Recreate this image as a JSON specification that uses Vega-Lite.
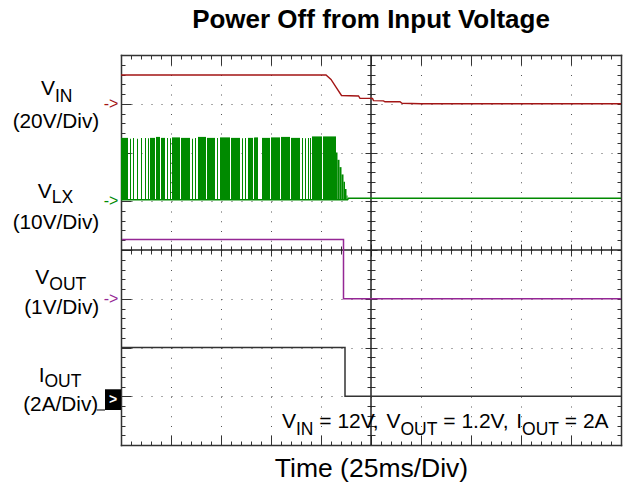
{
  "$schema": "https://vega.github.io/schema/vega-lite/v6.json",
  "width": 500,
  "height": 390,
  "autosize": {"type": "none"},
  "padding": {"left": 121, "top": 55, "right": 9, "bottom": 45},
  "background": "white",
  "config": {
    "view": {"stroke": null},
    "font": "Liberation Sans",
    "axis": {"labels": false, "domainColor": "#333333", "domainWidth": 1.5, "tickColor": "#333333", "tickWidth": 1, "grid": false, "domainCap": "square"}
  },
  "title": {"text": "Power Off from Input Voltage", "font": "Liberation Sans", "fontSize": 26, "fontWeight": "bold", "color": "#000000", "anchor": "middle", "baseline": "alphabetic", "offset": 0},
  "resolve": {"axis": {"x": "independent", "y": "independent"}},
  "datasets": {
    "traces": [
      {"ch": "VIN", "i": 0, "t": 0, "v": 7.59},
      {"ch": "VIN", "i": 1, "t": 4.1, "v": 7.59},
      {"ch": "VIN", "i": 2, "t": 4.2, "v": 7.5},
      {"ch": "VIN", "i": 3, "t": 4.3, "v": 7.34},
      {"ch": "VIN", "i": 4, "t": 4.41, "v": 7.17},
      {"ch": "VIN", "i": 5, "t": 4.75, "v": 7.16},
      {"ch": "VIN", "i": 6, "t": 4.78, "v": 7.11},
      {"ch": "VIN", "i": 7, "t": 5.03, "v": 7.11},
      {"ch": "VIN", "i": 8, "t": 5.05, "v": 7.065},
      {"ch": "VIN", "i": 9, "t": 5.25, "v": 7.06},
      {"ch": "VIN", "i": 10, "t": 5.28, "v": 7.04},
      {"ch": "VIN", "i": 11, "t": 5.58, "v": 7.04},
      {"ch": "VIN", "i": 12, "t": 5.62, "v": 7.01},
      {"ch": "VIN", "i": 13, "t": 6.0, "v": 7.0},
      {"ch": "VIN", "i": 14, "t": 10, "v": 7.0},
      {"ch": "VLX", "i": 0, "t": 0, "v": 5.03},
      {"ch": "VLX", "i": 1, "t": 4.53, "v": 5.03},
      {"ch": "VLX", "i": 2, "t": 4.55, "v": 5.06},
      {"ch": "VLX", "i": 3, "t": 10, "v": 5.06},
      {"ch": "VOUT", "i": 0, "t": 0.02, "v": 4.215},
      {"ch": "VOUT", "i": 1, "t": 4.45, "v": 4.215},
      {"ch": "VOUT", "i": 2, "t": 4.45, "v": 3.0},
      {"ch": "VOUT", "i": 3, "t": 10, "v": 3.0},
      {"ch": "IOUT", "i": 0, "t": 0, "v": 2.0},
      {"ch": "IOUT", "i": 1, "t": 4.48, "v": 2.0},
      {"ch": "IOUT", "i": 2, "t": 4.48, "v": 1.0},
      {"ch": "IOUT", "i": 3, "t": 10, "v": 1.0}
    ],
    "pulses": [
      {"t1": 0, "t2": 0.14, "hi": 6.3},
      {"t1": 0.18, "t2": 0.2, "hi": 6.28},
      {"t1": 0.24, "t2": 0.26, "hi": 6.3},
      {"t1": 0.32, "t2": 0.34, "hi": 6.28},
      {"t1": 0.4, "t2": 0.42, "hi": 6.3},
      {"t1": 0.48, "t2": 0.5, "hi": 6.3},
      {"t1": 0.54, "t2": 0.56, "hi": 6.29},
      {"t1": 0.58, "t2": 0.68, "hi": 6.3},
      {"t1": 0.7, "t2": 0.78, "hi": 6.32},
      {"t1": 0.8, "t2": 0.88, "hi": 6.3},
      {"t1": 0.92, "t2": 0.94, "hi": 6.3},
      {"t1": 0.98, "t2": 1.0, "hi": 6.29},
      {"t1": 1.02, "t2": 1.18, "hi": 6.31},
      {"t1": 1.2, "t2": 1.38, "hi": 6.3},
      {"t1": 1.42, "t2": 1.44, "hi": 6.28},
      {"t1": 1.48, "t2": 1.5, "hi": 6.3},
      {"t1": 1.54, "t2": 1.7, "hi": 6.32},
      {"t1": 1.72, "t2": 1.88, "hi": 6.3},
      {"t1": 1.92, "t2": 1.94, "hi": 6.3},
      {"t1": 1.98, "t2": 2.18, "hi": 6.31},
      {"t1": 2.2, "t2": 2.38, "hi": 6.3},
      {"t1": 2.42, "t2": 2.44, "hi": 6.29},
      {"t1": 2.48, "t2": 2.5, "hi": 6.3},
      {"t1": 2.54, "t2": 2.64, "hi": 6.3},
      {"t1": 2.66, "t2": 2.74, "hi": 6.31},
      {"t1": 2.82, "t2": 2.98, "hi": 6.3},
      {"t1": 3.0, "t2": 3.18, "hi": 6.31},
      {"t1": 3.2, "t2": 3.38, "hi": 6.32},
      {"t1": 3.4, "t2": 3.58, "hi": 6.3},
      {"t1": 3.62, "t2": 3.64, "hi": 6.3},
      {"t1": 3.68, "t2": 3.7, "hi": 6.29},
      {"t1": 3.74, "t2": 3.76, "hi": 6.3},
      {"t1": 3.78, "t2": 3.8, "hi": 6.3},
      {"t1": 3.82, "t2": 4.02, "hi": 6.33},
      {"t1": 4.04, "t2": 4.3, "hi": 6.33},
      {"t1": 4.3, "t2": 4.33, "hi": 6.0},
      {"t1": 4.33, "t2": 4.37, "hi": 5.85},
      {"t1": 4.37, "t2": 4.41, "hi": 5.7},
      {"t1": 4.41, "t2": 4.45, "hi": 5.55},
      {"t1": 4.45, "t2": 4.48, "hi": 5.4},
      {"t1": 4.48, "t2": 4.51, "hi": 5.25},
      {"t1": 4.51, "t2": 4.53, "hi": 5.12}
    ],
    "labels": [
      {"ch": "VIN", "main": "V", "sub": "IN", "scale": "(20V/Div)", "ground": 7, "lx": -1.32, "ly": 7.18, "sy": 7.04, "px": -0.434, "py": 6.51},
      {"ch": "VLX", "main": "V", "sub": "LX", "scale": "(10V/Div)", "ground": 5, "lx": -1.386, "ly": 5.06, "sy": 4.96, "px": -0.434, "py": 4.43},
      {"ch": "VOUT", "main": "V", "sub": "OUT", "scale": "(1V/Div)", "ground": 3, "lx": -1.434, "ly": 3.31, "sy": 3.18, "px": -0.434, "py": 2.69},
      {"ch": "IOUT", "main": "I", "sub": "OUT", "scale": "(2A/Div)", "ground": 1, "lx": -1.53, "ly": 1.3, "sy": 1.18, "px": -0.454, "py": 0.7}
    ],
    "marker": [
      {"ch": "IOUT", "x1": -0.32, "x2": 0, "y1": 1.143, "y2": 0.718, "lx1": -0.486, "cx": -0.16, "cy": 0.93}
    ],
    "note": [
      {"txt": "V", "x": 3.22, "y": 0.343, "part": "main"},
      {"txt": "IN", "x": 3.5, "y": 0.205, "part": "sub"},
      {"txt": "= 12V,", "x": 3.966, "y": 0.343, "part": "main"},
      {"txt": "V", "x": 5.31, "y": 0.343, "part": "main"},
      {"txt": "OUT", "x": 5.59, "y": 0.205, "part": "sub"},
      {"txt": "= 1.2V,", "x": 6.446, "y": 0.343, "part": "main"},
      {"txt": "I", "x": 7.904, "y": 0.343, "part": "main"},
      {"txt": "OUT", "x": 8.022, "y": 0.205, "part": "sub"},
      {"txt": "= 2A", "x": 8.876, "y": 0.343, "part": "main"}
    ],
    "center": [{"cx": 5, "cy": 4}]
  },
  "layer": [
    {
      "data": {"name": "center"},
      "mark": {"type": "rule", "color": "#222222", "strokeWidth": 1.5},
      "encoding": {
        "x": {"field": "cx", "type": "quantitative", "scale": {"domain": [0, 10], "nice": false, "zero": false},
          "axis": {"orient": "bottom", "values": [0,1,2,3,4,5,6,7,8,9,10], "tickSize": 12, "offset": -201, "domain": false, "labels": false, "title": null}}
      }
    },
    {
      "data": {"name": "center"},
      "mark": {"type": "rule", "color": "#222222", "strokeWidth": 1.5},
      "encoding": {
        "y": {"field": "cy", "type": "quantitative", "scale": {"domain": [0, 8], "nice": false, "zero": false}, "axis": null}
      }
    },
    {
      "data": {"name": "pulses"},
      "mark": {"type": "rect"},
      "encoding": {
        "x": {"field": "t1", "type": "quantitative", "scale": {"domain": [0, 10], "nice": false, "zero": false},
          "axis": {"orient": "bottom", "values": [0,0.2,0.4,0.6,0.8,1,1.2,1.4,1.6,1.8,2,2.2,2.4,2.6,2.8,3,3.2,3.4,3.6,3.8,4,4.2,4.4,4.6,4.8,5,5.2,5.4,5.6,5.8,6,6.2,6.4,6.6,6.8,7,7.2,7.4,7.6,7.8,8,8.2,8.4,8.6,8.8,9,9.2,9.4,9.6,9.8,10], "tickSize": -4, "domain": true, "labels": false,
            "title": "Time (25ms/Div)", "titleFont": "Liberation Sans", "titleFontSize": 26.5, "titleFontWeight": "normal", "titleColor": "#000000", "titleBaseline": "alphabetic", "titlePadding": 31}},
        "x2": {"field": "t2"},
        "y": {"field": "hi", "type": "quantitative", "scale": {"domain": [0, 8], "nice": false, "zero": false},
          "axis": {"orient": "left", "values": [0,0.2,0.4,0.6,0.8,1,1.2,1.4,1.6,1.8,2,2.2,2.4,2.6,2.8,3,3.2,3.4,3.6,3.8,4,4.2,4.4,4.6,4.8,5,5.2,5.4,5.6,5.8,6,6.2,6.4,6.6,6.8,7,7.2,7.4,7.6,7.8,8], "tickSize": -4, "domain": true, "labels": false, "title": null}},
        "y2": {"datum": 5.03},
        "color": {"datum": "VLX", "type": "nominal", "scale": {"domain": ["VIN", "VLX", "VOUT", "IOUT"], "range": ["#a31515", "#008a00", "#952795", "#333333"]}, "legend": null}
      }
    },
    {
      "data": {"name": "traces"},
      "transform": [{"filter": "datum.ch === 'VLX'"}],
      "mark": {"type": "line", "strokeWidth": 1.5},
      "encoding": {
        "x": {"field": "t", "type": "quantitative", "scale": {"domain": [0, 10], "nice": false, "zero": false},
          "axis": {"orient": "bottom", "values": [0,1,2,3,4,5,6,7,8,9,10], "tickSize": -10, "domain": false, "labels": false, "grid": true, "gridDash": [1, 8.75], "gridColor": "#555555", "gridWidth": 1, "title": null}},
        "y": {"field": "v", "type": "quantitative", "scale": {"domain": [0, 8], "nice": false, "zero": false},
          "axis": {"orient": "left", "values": [0,1,2,3,4,5,6,7,8], "tickSize": -10, "domain": false, "labels": false, "grid": true, "gridDash": [1, 9], "gridColor": "#555555", "gridWidth": 1, "title": null}},
        "order": {"field": "i"},
        "color": {"field": "ch", "type": "nominal", "scale": {"domain": ["VIN", "VLX", "VOUT", "IOUT"], "range": ["#a31515", "#008a00", "#952795", "#333333"]}, "legend": null}
      }
    },
    {
      "data": {"name": "traces"},
      "transform": [{"filter": "datum.ch === 'VIN'"}],
      "mark": {"type": "line", "strokeWidth": 1.4},
      "encoding": {
        "x": {"field": "t", "type": "quantitative", "scale": {"domain": [0, 10], "nice": false, "zero": false},
          "axis": {"orient": "top", "values": [0,0.2,0.4,0.6,0.8,1,1.2,1.4,1.6,1.8,2,2.2,2.4,2.6,2.8,3,3.2,3.4,3.6,3.8,4,4.2,4.4,4.6,4.8,5,5.2,5.4,5.6,5.8,6,6.2,6.4,6.6,6.8,7,7.2,7.4,7.6,7.8,8,8.2,8.4,8.6,8.8,9,9.2,9.4,9.6,9.8,10], "tickSize": -4, "domain": true, "labels": false, "title": null}},
        "y": {"field": "v", "type": "quantitative", "scale": {"domain": [0, 8], "nice": false, "zero": false},
          "axis": {"orient": "right", "values": [0,0.2,0.4,0.6,0.8,1,1.2,1.4,1.6,1.8,2,2.2,2.4,2.6,2.8,3,3.2,3.4,3.6,3.8,4,4.2,4.4,4.6,4.8,5,5.2,5.4,5.6,5.8,6,6.2,6.4,6.6,6.8,7,7.2,7.4,7.6,7.8,8], "tickSize": -4, "domain": true, "labels": false, "title": null}},
        "order": {"field": "i"},
        "color": {"field": "ch", "type": "nominal", "scale": {"domain": ["VIN", "VLX", "VOUT", "IOUT"], "range": ["#a31515", "#008a00", "#952795", "#333333"]}, "legend": null}
      }
    },
    {
      "data": {"name": "traces"},
      "transform": [{"filter": "datum.ch === 'VOUT'"}],
      "mark": {"type": "line", "strokeWidth": 1.5},
      "encoding": {
        "x": {"field": "t", "type": "quantitative", "scale": {"domain": [0, 10], "nice": false, "zero": false},
          "axis": {"orient": "top", "values": [0,1,2,3,4,5,6,7,8,9,10], "tickSize": -10, "domain": false, "labels": false, "title": null}},
        "y": {"field": "v", "type": "quantitative", "scale": {"domain": [0, 8], "nice": false, "zero": false},
          "axis": {"orient": "left", "values": [0,0.2,0.4,0.6,0.8,1,1.2,1.4,1.6,1.8,2,2.2,2.4,2.6,2.8,3,3.2,3.4,3.6,3.8,4,4.2,4.4,4.6,4.8,5,5.2,5.4,5.6,5.8,6,6.2,6.4,6.6,6.8,7,7.2,7.4,7.6,7.8,8], "tickSize": 8, "offset": -254, "domain": false, "labels": false, "title": null}},
        "order": {"field": "i"},
        "color": {"field": "ch", "type": "nominal", "scale": {"domain": ["VIN", "VLX", "VOUT", "IOUT"], "range": ["#a31515", "#008a00", "#952795", "#333333"]}, "legend": null}
      }
    },
    {
      "data": {"name": "traces"},
      "transform": [{"filter": "datum.ch === 'IOUT'"}],
      "mark": {"type": "line", "strokeWidth": 1.5},
      "encoding": {
        "x": {"field": "t", "type": "quantitative", "scale": {"domain": [0, 10], "nice": false, "zero": false},
          "axis": {"orient": "bottom", "values": [0,0.2,0.4,0.6,0.8,1,1.2,1.4,1.6,1.8,2,2.2,2.4,2.6,2.8,3,3.2,3.4,3.6,3.8,4,4.2,4.4,4.6,4.8,5,5.2,5.4,5.6,5.8,6,6.2,6.4,6.6,6.8,7,7.2,7.4,7.6,7.8,8,8.2,8.4,8.6,8.8,9,9.2,9.4,9.6,9.8,10], "tickSize": 8, "offset": -199, "domain": false, "labels": false, "title": null}},
        "y": {"field": "v", "type": "quantitative", "scale": {"domain": [0, 8], "nice": false, "zero": false},
          "axis": {"orient": "left", "values": [0,1,2,3,4,5,6,7,8], "tickSize": 12, "offset": -256, "domain": false, "labels": false, "title": null}},
        "order": {"field": "i"},
        "color": {"field": "ch", "type": "nominal", "scale": {"domain": ["VIN", "VLX", "VOUT", "IOUT"], "range": ["#a31515", "#008a00", "#952795", "#333333"]}, "legend": null}
      }
    },
    {
      "data": {"name": "labels"},
      "mark": {"type": "text", "align": "right", "baseline": "alphabetic", "fontSize": 21, "color": "#000000"},
      "encoding": {
        "x": {"field": "lx", "type": "quantitative", "axis": null},
        "y": {"field": "ly", "type": "quantitative", "axis": null},
        "text": {"field": "main"}
      }
    },
    {
      "data": {"name": "labels"},
      "mark": {"type": "text", "align": "left", "baseline": "alphabetic", "fontSize": 17.5, "color": "#000000"},
      "encoding": {
        "x": {"field": "lx", "type": "quantitative", "axis": null},
        "y": {"field": "sy", "type": "quantitative", "axis": null},
        "text": {"field": "sub"}
      }
    },
    {
      "data": {"name": "labels"},
      "mark": {"type": "text", "align": "right", "baseline": "alphabetic", "fontSize": 20.8, "color": "#000000"},
      "encoding": {
        "x": {"field": "px", "type": "quantitative", "axis": null},
        "y": {"field": "py", "type": "quantitative", "axis": null},
        "text": {"field": "scale"}
      }
    },
    {
      "data": {"name": "labels"},
      "transform": [{"filter": "datum.ch !== 'IOUT'"}],
      "mark": {"type": "text", "align": "center", "baseline": "middle", "fontSize": 16, "text": "->"},
      "encoding": {
        "x": {"datum": -0.2, "type": "quantitative", "axis": null},
        "y": {"field": "ground", "type": "quantitative", "axis": null},
        "color": {"field": "ch", "type": "nominal", "scale": {"domain": ["VIN", "VLX", "VOUT", "IOUT"], "range": ["#a31515", "#008a00", "#952795", "#333333"]}, "legend": null}
      }
    },
    {
      "data": {"name": "marker"},
      "mark": {"type": "rect", "color": "#000000"},
      "encoding": {
        "x": {"field": "x1", "type": "quantitative", "axis": null},
        "x2": {"field": "x2"},
        "y": {"field": "y1", "type": "quantitative", "axis": null},
        "y2": {"field": "y2"}
      }
    },
    {
      "data": {"name": "marker"},
      "mark": {"type": "rule", "color": "#000000", "strokeWidth": 1},
      "encoding": {
        "x": {"field": "lx1", "type": "quantitative", "axis": null},
        "x2": {"field": "x1"},
        "y": {"field": "y2", "type": "quantitative", "axis": null}
      }
    },
    {
      "data": {"name": "marker"},
      "mark": {"type": "text", "align": "center", "baseline": "middle", "fontSize": 14, "fontWeight": "bold", "color": "#ffffff", "text": ">"},
      "encoding": {
        "x": {"field": "cx", "type": "quantitative", "axis": null},
        "y": {"field": "cy", "type": "quantitative", "axis": null}
      }
    },
    {
      "data": {"name": "note"},
      "transform": [{"filter": "datum.part === 'main'"}],
      "mark": {"type": "text", "align": "left", "baseline": "alphabetic", "fontSize": 21, "color": "#000000"},
      "encoding": {
        "x": {"field": "x", "type": "quantitative", "axis": null},
        "y": {"field": "y", "type": "quantitative", "axis": null},
        "text": {"field": "txt"}
      }
    },
    {
      "data": {"name": "note"},
      "transform": [{"filter": "datum.part === 'sub'"}],
      "mark": {"type": "text", "align": "left", "baseline": "alphabetic", "fontSize": 17.5, "color": "#000000"},
      "encoding": {
        "x": {"field": "x", "type": "quantitative", "axis": null},
        "y": {"field": "y", "type": "quantitative", "axis": null},
        "text": {"field": "txt"}
      }
    }
  ]
}
